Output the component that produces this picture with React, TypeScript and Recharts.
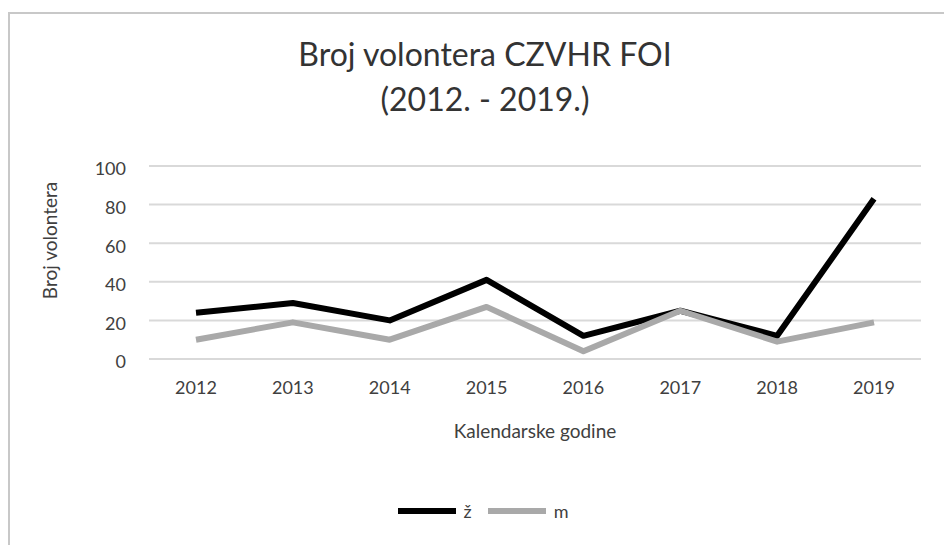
import { LineChart, Line, XAxis, YAxis, CartesianGrid, Legend } from "recharts";

const years = ["2012", "2013", "2014", "2015", "2016", "2017", "2018", "2019"];
const zeneValues = [24, 29, 20, 41, 12, 25, 12, 83];
const muskiValues = [10, 19, 10, 27, 4, 25, 9, 19];
const yTicks = [0, 20, 40, 60, 80, 100];
const legendOrder = ["z", "m"];

const data = years.map((year, i) => ({
  year,
  z: zeneValues[i],
  m: muskiValues[i],
}));

const FONT = "Lato, 'Open Sans', sans-serif";
const TEXT = "#404040";

const renderLegend = (props: any) => {
  const payload = [...(props.payload || [])].sort(
    (a: any, b: any) =>
      legendOrder.indexOf(a.dataKey) - legendOrder.indexOf(b.dataKey)
  );
  return (
    <div
      style={{
        display: "flex",
        justifyContent: "center",
        alignItems: "center",
        fontFamily: FONT,
        fontSize: 18,
        color: TEXT,
      }}
    >
      {payload.map((entry: any, i: number) => (
        <span
          key={entry.value}
          style={{
            display: "flex",
            alignItems: "center",
            marginRight: i < payload.length - 1 ? 16 : 0,
          }}
        >
          <span
            style={{
              display: "inline-block",
              width: 58,
              height: 6,
              background: entry.color,
              marginRight: 8,
            }}
          />
          <span>{entry.value}</span>
        </span>
      ))}
    </div>
  );
};

export default function App() {
  return (
    <div
      style={{
        position: "absolute",
        left: 8,
        top: 12,
        width: 936,
        height: 533,
        overflow: "hidden",
        borderTop: "2px solid #c8c8c8",
        borderLeft: "2px solid #c8c8c8",
        boxSizing: "border-box",
        background: "#fff",
      }}
    >
      <div
        style={{
          position: "absolute",
          left: 0,
          top: 17,
          width: 950,
          textAlign: "center",
          fontFamily: FONT,
          fontSize: 32,
          lineHeight: "45px",
          color: "#333",
        }}
      >
        Broj volontera CZVHR FOI
        <br />
        (2012. - 2019.)
      </div>
      <div style={{ position: "absolute", left: -2, top: -2 }}>
        <LineChart
          width={950}
          height={533}
          data={data}
          margin={{ top: 154, right: 37, left: 0, bottom: 0 }}
        >
          <CartesianGrid vertical={false} stroke="#d9d9d9" strokeWidth={2} />
          <XAxis
            dataKey="year"
            axisLine={false}
            tickLine={false}
            tickMargin={16}
            padding={{ left: 47, right: 47 }}
            tick={{ fill: TEXT, fontSize: 18, fontFamily: FONT }}
            height={186}
            label={(props: any) => {
              const vb = props.viewBox;
              return (
                <text
                  x={vb.x + vb.width / 2}
                  y={vb.y + 79}
                  textAnchor="middle"
                  fill={TEXT}
                  fontSize={19}
                  fontFamily={FONT}
                >
                  Kalendarske godine
                </text>
              );
            }}
          />
          <YAxis
            domain={[0, 100]}
            ticks={yTicks}
            axisLine={false}
            tickLine={false}
            tickMargin={17}
            width={141}
            tick={{ fill: TEXT, fontSize: 18, fontFamily: FONT, dy: 3 }}
            label={(props: any) => {
              const vb = props.viewBox;
              const cx = vb.x + 41;
              const cy = vb.y + vb.height / 2 - 22;
              return (
                <text
                  x={cx}
                  y={cy}
                  transform={`rotate(-90, ${cx}, ${cy})`}
                  textAnchor="middle"
                  dominantBaseline="central"
                  fill={TEXT}
                  fontSize={19}
                  fontFamily={FONT}
                >
                  Broj volontera
                </text>
              );
            }}
          />
          <Legend
            layout="horizontal"
            verticalAlign="middle"
            content={renderLegend}
            wrapperStyle={{ left: 0, top: 488, width: 950, height: 20 }}
          />
          <Line
            dataKey="z"
            name="ž"
            stroke="#000000"
            strokeWidth={6}
            strokeLinejoin="round"
            dot={false}
            activeDot={false}
            isAnimationActive={false}
          />
          <Line
            dataKey="m"
            name="m"
            stroke="#a9a9a9"
            strokeWidth={6}
            strokeLinejoin="round"
            dot={false}
            activeDot={false}
            isAnimationActive={false}
          />
        </LineChart>
      </div>
    </div>
  );
}
